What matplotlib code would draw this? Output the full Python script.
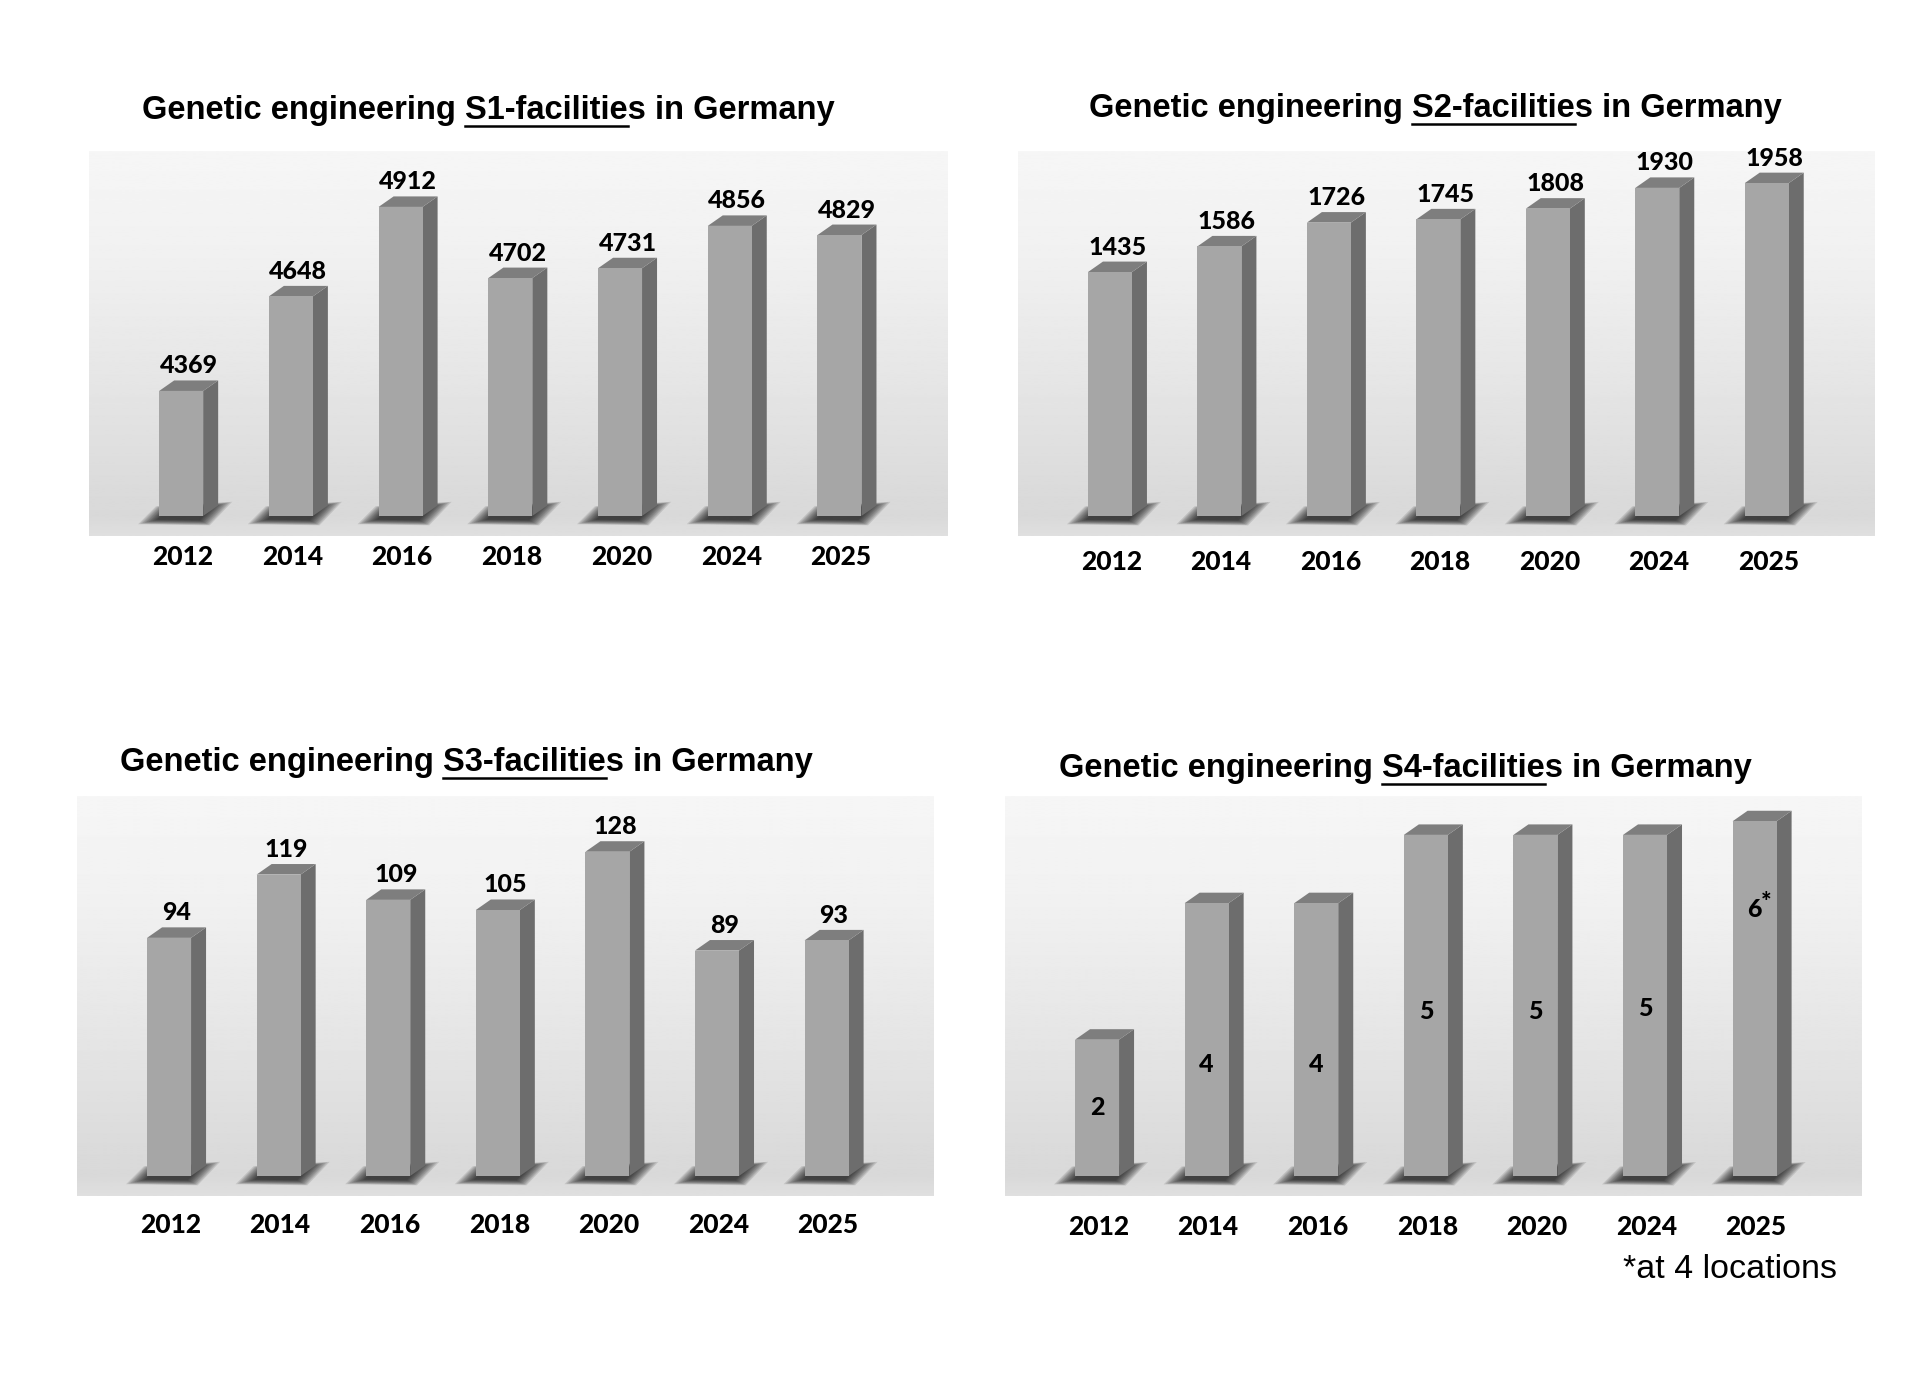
import numpy as np
import matplotlib
matplotlib.use("Agg")
import matplotlib.pyplot as plt
import matplotlib.transforms as mtransforms
from matplotlib.patches import Polygon, Rectangle

# ---- data ----
years = ["2012", "2014", "2016", "2018", "2020", "2024", "2025"]
s1_values = [4369, 4648, 4912, 4702, 4731, 4856, 4829]
s2_values = [1435, 1586, 1726, 1745, 1808, 1930, 1958]
s3_values = [94, 119, 109, 105, 128, 89, 93]
s4_values = [2, 4, 4, 5, 5, 5, 6]
# the 2025 S4 bar is drawn only a bit taller than 5 in the original
s4_heights = [2, 4, 4, 5, 5, 5, 5.2]
s4_label_y = [1.0, 1.63, 1.63, 2.42, 2.42, 2.45, 3.9]

W, H = 1920, 1388
fig = plt.figure(figsize=(W / 100, H / 100), dpi=100)
fig.patch.set_facecolor("white")

NUM_FONT = ["Lato", "DejaVu Sans"]
TITLE_FONT = ["Liberation Sans", "DejaVu Sans"]
NUM_WEIGHT = 900

FRONT = "#a6a6a6"
SIDE = "#6d6d6d"
TOP = "#7e7e7e"

XLIM = (-0.84, 6.98)

# floor shadow outline, pixels relative to the front-left bottom corner of a bar
SHADOW = np.array([(-16, -7), (48, -8), (68, 13), (0, 9)], dtype=float)


def fx(px):
    return px / W


def fy(py):
    return 1 - py / H


def draw_panel(rect, ylim, base, values, heights, tick_y, outside=True):
    x0, y0, x1, y1 = rect
    ax = fig.add_axes([fx(x0), fy(y1), (x1 - x0) / W, (y1 - y0) / H])
    ax.axis("off")

    # background gradient (light at top, grey towards the floor)
    t = np.linspace(0, 1, 300)
    g = np.interp(t, [0, 0.25, 0.6, 0.9, 0.95, 1.0],
                  [0.965, 0.945, 0.9, 0.855, 0.85, 0.875])
    ax.imshow(g[:, None], cmap="gray", vmin=0, vmax=1, extent=(0, 1, 0, 1),
              transform=ax.transAxes, aspect="auto", zorder=0)
    ax.set_xlim(*XLIM)
    ax.set_ylim(*ylim)

    ppx = (x1 - x0) / (XLIM[1] - XLIM[0])
    ppy = (y1 - y0) / (ylim[1] - ylim[0])
    bw = 44 / ppx
    dxu = 15 / ppx
    dyu = 10.5 / ppy
    centre = np.array([26.0, 3.0])

    for i, h in enumerate(heights):
        xl, xr = i - bw / 2, i + bw / 2
        # blurred shadow: stacked shrinking copies of the outline
        n = 10
        for k in range(n):
            s = 1.12 - 0.5 * k / n
            pts = centre + (SHADOW - centre) * s
            pts = np.column_stack([xl + pts[:, 0] / ppx, base + pts[:, 1] / ppy])
            ax.add_patch(Polygon(pts, closed=True, facecolor="black",
                                 edgecolor="none", alpha=0.11, zorder=1))
        ax.add_patch(Polygon([(xr, base), (xr + dxu, base + dyu),
                              (xr + dxu, h + dyu), (xr, h)],
                             closed=True, facecolor=SIDE, edgecolor="none", zorder=2))
        ax.add_patch(Polygon([(xl, h), (xr, h), (xr + dxu, h + dyu), (xl + dxu, h + dyu)],
                             closed=True, facecolor=TOP, edgecolor="none", zorder=2))
        ax.add_patch(Rectangle((xl, base), bw, h - base, facecolor=FRONT,
                               edgecolor="none", zorder=3))
        if outside:
            ax.annotate(str(values[i]), (i + dxu / 2, h + dyu), xytext=(0, 7),
                        textcoords="offset pixels", ha="center", va="baseline",
                        fontsize=18, fontweight=NUM_WEIGHT, family=NUM_FONT,
                        zorder=5, annotation_clip=False)

    trans = mtransforms.blended_transform_factory(ax.transData, fig.transFigure)
    for i, yr in enumerate(years):
        ax.text(i + dxu * 0.1, fy(tick_y), yr, transform=trans, ha="center",
                va="center", fontsize=19, fontweight=NUM_WEIGHT, family=NUM_FONT)
    return ax, dxu


def draw_title(x_left, y_mid, level):
    prefix = "Genetic engineering "
    under = level + "-facilitie"
    full = prefix + under + "s in Germany"
    kw = dict(fontsize=23.5, fontweight="bold", family=TITLE_FONT)
    fig.text(fx(x_left), fy(y_mid + 4), full, ha="left", va="center", **kw)
    r = fig.canvas.get_renderer()
    m1 = fig.text(0, 0, prefix + under, alpha=0, **kw)
    m2 = fig.text(0, 0, under, alpha=0, **kw)
    w1 = m1.get_window_extent(r).width
    w2 = m2.get_window_extent(r).width
    m1.remove()
    m2.remove()
    xa = x_left + w1 - w2
    xb = x_left + w1
    fig.add_artist(plt.Line2D([fx(xa), fx(xb)], [fy(y_mid + 20), fy(y_mid + 20)],
                              transform=fig.transFigure, color="black", lw=1.8))


# S1
draw_panel((89, 151, 947, 536), (3941, 5077), 4000, s1_values, s1_values, 557)
draw_title(142, 106, "S1")

# S2
draw_panel((1018, 151, 1874, 536), (-117, 2147), 0, s2_values, s2_values, 562)
draw_title(1089, 104, "S2")

# S3
draw_panel((77, 796, 934, 1196), (-7.9, 150), 0, s3_values, s3_values, 1225)
draw_title(120, 758, "S3")

# S4 (labels inside the bars)
ax4, _ = draw_panel((1005, 796, 1862, 1196), (-0.29, 5.57), 0, s4_values, s4_heights,
                    1227, outside=False)
draw_title(1059, 764, "S4")
for i, v in enumerate(s4_values):
    ax4.text(i, s4_label_y[i], str(v), ha="center", va="center", fontsize=18,
             fontweight=NUM_WEIGHT, family=NUM_FONT, zorder=6)
ax4.annotate("*", (len(s4_values) - 1, s4_label_y[-1]), xytext=(12, 7),
             textcoords="offset pixels", ha="center", va="center", fontsize=18,
             fontweight=NUM_WEIGHT, family=NUM_FONT, zorder=6)

fig.text(fx(1837), fy(1270), "*at 4 locations", ha="right", va="center",
         fontsize=24.5, family=TITLE_FONT)

fig.savefig("out.png", dpi=100)
